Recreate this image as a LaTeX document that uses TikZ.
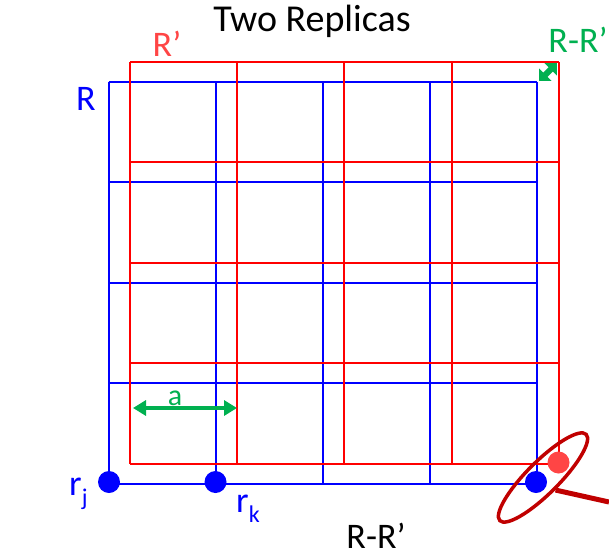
\documentclass[tikz,border=0pt]{standalone}
\usepackage{fontspec}
\setmainfont{Carlito}
\usetikzlibrary{arrows.meta,shapes.geometric}
\definecolor{gblue}{HTML}{0000FF}
\definecolor{gred}{HTML}{FF0000}
\definecolor{lred}{HTML}{FF4545}
\definecolor{ggreen}{HTML}{00B050}
\definecolor{dred}{HTML}{C00000}
\begin{document}
\begin{tikzpicture}[x=1pt,y=-1pt,
  bgrid/.style={gblue, line width=2pt},
  rgrid/.style={gred, line width=2pt},
  lbl/.style={font=\fontsize{36}{40}\selectfont, inner sep=0pt, anchor=base},
  dot/.style={circle, inner sep=0pt, minimum size=22pt},
  garrow/.style={ggreen, line width=4pt, {Triangle[length=13pt,width=15pt]}-{Triangle[length=13pt,width=15pt]}},
  sgarrow/.style={ggreen, line width=6pt, {Triangle[length=9pt,width=17pt]}-{Triangle[length=9pt,width=17pt]}},
  ring/.style={ellipse, draw=dred, line width=3.5pt, minimum width=122pt, minimum height=32pt, inner sep=0pt, rotate=45},
  tail/.style={dred, line width=5pt}]
\useasboundingbox (0,0) rectangle (609,556);
% blue grid R
\foreach \i in {0,...,4} {
  \draw[bgrid] (108.5+107.2*\i,82) -- (108.5+107.2*\i,483.6);
  \draw[bgrid] (108.5,82+100.4*\i) -- (537.3,82+100.4*\i);
}
% red grid R'
\foreach \i in {0,...,4} {
  \draw[rgrid] (130+107.2*\i,62) -- (130+107.2*\i,463.6);
  \draw[rgrid] (130,62+100.4*\i) -- (558.8,62+100.4*\i);
}
% labels
\node[lbl, font=\fontsize{38}{42}\selectfont] (title) at (312,32) {Two Replicas};
\node[lbl, text=lred] (Rp) at (167,57) {R’};
\node[lbl, text=gblue] (R) at (86,111) {R};
\node[lbl, text=ggreen] (RRg) at (578,53) {R-R’};
\node[lbl] (RRb) at (376,548) {R-R’};
\node[lbl, anchor=base west, text=gblue] (rj) at (69,495) {r\raisebox{-0.3em}{\fontsize{24}{24}\selectfont j}};
\node[lbl, anchor=base west, text=gblue] (rk) at (236,512) {r\raisebox{-0.3em}{\fontsize{24}{24}\selectfont k}};
\node[lbl, font=\fontsize{30}{32}\selectfont, text=ggreen] (alab) at (175,405) {a};
% lattice spacing arrow
\coordinate (a1) at (133,408);
\coordinate (a2) at (237,408);
\draw[garrow] (a1) -- (a2);
% R-R' shift arrow
\coordinate (s1) at (539,81);
\coordinate (s2) at (557,63);
\draw[sgarrow] (s1) -- (s2);
% dots
\node[dot, fill=gblue] (dj) at (109,482) {};
\node[dot, fill=gblue] (dk) at (215.5,482) {};
\node[dot, fill=gblue] (dl) at (536,482) {};
\node[dot, fill=lred] (dr) at (558.5,462.5) {};
% ellipse and pointer
\node[ring] (ell) at (543,477.5) {};
\coordinate (tailend) at (609,502);
\draw[tail] (ell.south) -- (tailend);
\end{tikzpicture}
\end{document}
